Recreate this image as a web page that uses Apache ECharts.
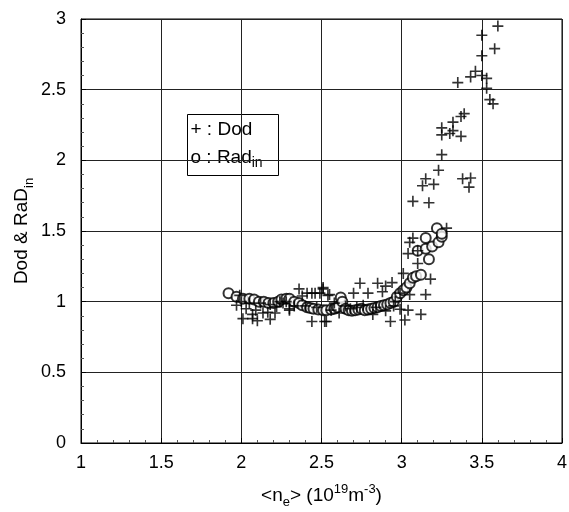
<!DOCTYPE html>
<html>
<head>
<meta charset="utf-8">
<script src="https://cdn.jsdelivr.net/npm/echarts@6/dist/echarts.min.js"></script>
<style>
  html, body { margin: 0; padding: 0; background: #fff; }
  #chart { width: 569px; height: 512px; }
</style>
</head>
<body>
<div id="chart"></div>
<script>
// Dod (plus markers)
const dodX = [1.97, 1.99, 2.00, 2.01, 2.03, 2.05, 2.07, 2.07, 2.09, 2.10, 2.12, 2.135, 2.165, 2.18, 2.18, 2.21,
  2.22, 2.24, 2.26, 2.28, 2.30, 2.30, 2.33, 2.36, 2.38, 2.40, 2.41, 2.44, 2.44, 2.46, 2.47, 2.49, 2.51, 2.51,
  2.52, 2.53, 2.54, 2.55, 2.56, 2.58, 2.61, 2.65, 2.68, 2.70, 2.72, 2.74, 2.76, 2.79, 2.82, 2.84, 2.85, 2.88,
  2.90, 2.90, 2.93, 2.94, 2.95, 2.96, 2.99, 2.99, 3.01, 3.02, 3.04, 3.04, 3.05, 3.05, 3.07, 3.10, 3.10, 3.12,
  3.15, 3.18, 3.17, 3.07, 3.13, 3.20, 3.15, 3.23, 3.25, 3.28, 3.38, 3.43, 3.42, 3.25, 3.25, 3.30, 3.32, 3.37,
  3.32, 3.37, 3.39, 3.35, 3.43, 3.46, 3.50, 3.53, 3.53, 3.55, 3.57, 3.50, 3.58, 3.50, 3.60]
const dodY = [0.975, 1.045, 1.00, 0.88, 0.95, 0.99, 0.91, 0.88, 0.94, 0.865, 0.99, 0.92, 0.925, 0.875, 0.98, 0.92,
  0.965, 1.00, 0.99, 1.00, 0.94, 0.95, 0.97, 1.09, 1.04, 0.97, 1.06, 1.06, 0.86, 1.06, 0.96, 1.06, 1.10, 1.09,
  0.86, 0.86, 1.045, 1.05, 0.94, 0.99, 0.92, 0.97, 0.95, 1.06, 0.96, 1.13, 0.975, 1.06, 0.91, 0.96, 1.13, 1.07,
  1.11, 0.935, 0.86, 1.135, 0.97, 1.00, 1.06, 0.946, 1.20, 0.87, 0.94, 1.34, 1.05, 1.42, 1.45, 1.36, 1.27, 0.91,
  1.05, 1.16, 1.70, 1.71, 1.82, 1.83, 1.87, 1.93, 2.04, 1.52, 1.87, 1.875, 1.81, 2.18, 2.23, 2.19, 2.21, 2.17,
  2.27, 2.31, 2.33, 2.55, 2.59, 2.63, 2.60, 2.58, 2.51, 2.43, 2.40, 2.74, 2.79, 2.885, 2.95]

// Rad_in (open circles)
const radX = [1.92, 1.97, 2.01, 2.05, 2.08, 2.11, 2.14, 2.17, 2.20, 2.23, 2.25, 2.28, 2.30, 2.33, 2.36, 2.38,
  2.41, 2.43, 2.45, 2.48, 2.51, 2.53, 2.56, 2.58, 2.60, 2.62, 2.63, 2.65, 2.67, 2.69, 2.71, 2.73, 2.75, 2.77,
  2.79, 2.81, 2.83, 2.85, 2.87, 2.89, 2.91, 2.93, 2.95, 2.97, 2.99, 3.01, 3.03, 3.05, 3.07, 3.09, 3.10, 3.12,
  3.15, 3.15, 3.17, 3.19, 3.22, 3.23, 3.25, 3.25]
const radY = [1.06, 1.035, 1.02, 1.02, 1.015, 1.00, 1.00, 0.99, 0.99, 1.00, 1.015, 1.02, 1.02, 1.00, 0.99, 0.975,
  0.96, 0.955, 0.95, 0.945, 0.94, 0.94, 0.945, 0.95, 0.96, 1.03, 1.00, 0.95, 0.94, 0.935, 0.94, 0.945, 0.95, 0.94,
  0.945, 0.95, 0.955, 0.96, 0.97, 0.975, 0.98, 0.99, 1.00, 1.035, 1.06, 1.08, 1.10, 1.13, 1.17, 1.18, 1.36, 1.19,
  1.375, 1.45, 1.30, 1.39, 1.52, 1.42, 1.46, 1.48]

const xTicks = [1, 1.5, 2, 2.5, 3, 3.5, 4]
const yTicks = [0, 0.5, 1, 1.5, 2, 2.5, 3]

const font = 'Liberation Sans, Arial, sans-serif'
const plusPath = 'path://M4.25,0h1.5v4.25h4.25v1.5h-4.25v4.25h-1.5v-4.25h-4.25v-1.5h4.25z'

function zip(xs, ys) {
  return xs.map((x, i) => [x, ys[i]])
}

const chart = echarts.init(document.getElementById('chart'), null, { renderer: 'canvas' })

const axisCommon = {
  type: 'value',
  interval: 0.5,
  nameMoveOverlap: false,
  axisLine: { show: true, onZero: false, lineStyle: { color: '#000', width: 1 } },
  axisTick: { show: true, inside: true, length: 5, lineStyle: { color: '#000' } },
  minorTick: { show: true, splitNumber: 5, length: 3, lineStyle: { color: '#555' } },
  splitLine: { show: true, lineStyle: { color: '#222', width: 1 } }
}

const option = {
  animation: false,
  backgroundColor: '#fff',
  grid: {
    left: 81, right: 7, top: 19, bottom: 69,
    outerBoundsMode: 'none',
    containLabel: false,
    show: true, borderColor: '#000', borderWidth: 1
  },
  xAxis: Object.assign({}, axisCommon, {
    min: xTicks[0],
    max: xTicks[xTicks.length - 1],
    axisLabel: { color: '#000', fontSize: 18, fontFamily: font, margin: 11 },
    name: '<n{sub|e}> (10{sup|19}m{sup|-3})',
    nameLocation: 'middle',
    nameGap: 40,
    nameTextStyle: {
      color: '#000', fontSize: 19, fontFamily: font, lineHeight: 26,
      rich: {
        sub: { fontSize: 13, fontFamily: font, color: '#000', verticalAlign: 'bottom', lineHeight: 14 },
        sup: { fontSize: 13, fontFamily: font, color: '#000', verticalAlign: 'top', lineHeight: 14 }
      }
    }
  }),
  yAxis: Object.assign({}, axisCommon, {
    min: yTicks[0],
    max: yTicks[yTicks.length - 1],
    axisLabel: { color: '#000', fontSize: 18, fontFamily: font, margin: 15 },
    name: 'Dod & RaD{sub|in}',
    nameLocation: 'middle',
    nameGap: 45,
    nameTextStyle: {
      color: '#000', fontSize: 19, fontFamily: font, lineHeight: 28,
      rich: {
        sub: { fontSize: 13, fontFamily: font, color: '#000', verticalAlign: 'bottom', lineHeight: 15 }
      }
    }
  }),
  graphic: [{
    type: 'group',
    left: 187,
    top: 114,
    children: [
      { type: 'rect', shape: { x: 0, y: 0, width: 91, height: 61 }, style: { fill: '#fff', stroke: '#000', lineWidth: 1 } },
      { type: 'text', x: 3, y: 6, style: { text: '+ : Dod', fill: '#000', fontSize: 19, fontFamily: font } },
      {
        type: 'text', x: 3, y: 30,
        style: {
          text: 'o : Rad{sub|in}', fill: '#000', fontSize: 19, fontFamily: font, lineHeight: 26,
          rich: { sub: { fontSize: 14, fontFamily: font, fill: '#000', verticalAlign: 'bottom', lineHeight: 14 } }
        }
      }
    ]
  }],
  series: [
    {
      name: 'Rad_in',
      type: 'scatter',
      data: zip(radX, radY),
      symbol: 'emptyCircle',
      symbolSize: 10,
      itemStyle: { color: '#000', borderColor: '#000', borderWidth: 1.3 },
      z: 2
    },
    {
      name: 'Dod',
      type: 'scatter',
      data: zip(dodX, dodY),
      symbol: plusPath,
      symbolSize: 11,
      itemStyle: { color: '#000' },
      z: 3
    }
  ]
}

chart.setOption(option)
</script>
</body>
</html>
